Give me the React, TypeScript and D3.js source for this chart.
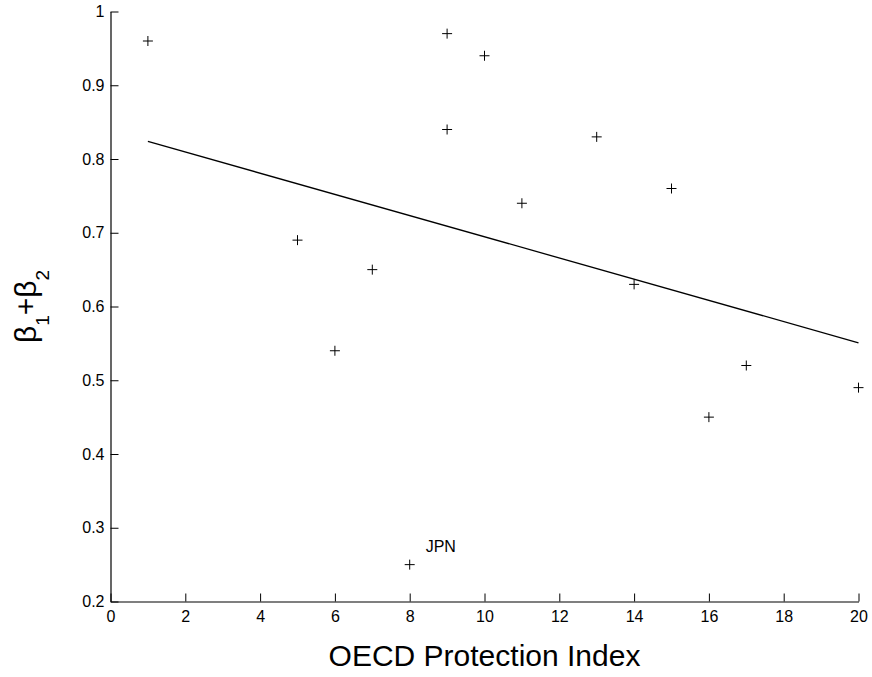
import { useEffect, useRef } from "react";
import * as d3 from "d3";

// OECD employment protection index vs. persistence (beta1 + beta2)
const protectionIndex = [1, 5, 6, 7, 8, 9, 9, 10, 11, 13, 14, 15, 16, 17, 20];
const betaSum = [0.96, 0.69, 0.54, 0.65, 0.25, 0.97, 0.84, 0.94, 0.74, 0.83, 0.63, 0.76, 0.45, 0.52, 0.49];
const pointLabels = ["", "", "", "", "JPN", "", "", "", "", "", "", "", "", "", ""];

const xTicks = [0, 2, 4, 6, 8, 10, 12, 14, 16, 18, 20];
const yTicks = [0.2, 0.3, 0.4, 0.5, 0.6, 0.7, 0.8, 0.9, 1];

const W = 872;
const H = 677;
const FONT = "Arial, 'Liberation Sans', Helvetica, sans-serif";

function leastSquares(xs: number[], ys: number[]): [number, number] {
  const mx = d3.mean(xs) ?? 0;
  const my = d3.mean(ys) ?? 0;
  let sxy = 0;
  let sxx = 0;
  xs.forEach((x, i) => {
    sxy += (x - mx) * (ys[i] - my);
    sxx += (x - mx) * (x - mx);
  });
  const slope = sxy / sxx;
  return [slope, my - slope * mx];
}

export default function App(): JSX.Element {
  const ref = useRef<SVGSVGElement | null>(null);

  useEffect(() => {
    if (!ref.current) return;
    const svg = d3.select(ref.current);
    svg.selectAll("*").remove();

    const x = d3.scaleLinear().domain([0, 20]).range([110.5, 858.5]);
    const y = d3.scaleLinear().domain([0.2, 1]).range([601.5, 11.5]);

    const xAxis = svg
      .append("g")
      .attr("transform", `translate(0,${y(0.2)})`)
      .call(
        d3
          .axisBottom(x)
          .tickValues(xTicks)
          .tickFormat(d3.format("~g"))
          .tickSizeInner(-8)
          .tickSizeOuter(0)
          .tickPadding(9),
      );

    const yAxis = svg
      .append("g")
      .attr("transform", `translate(${x(0)},0)`)
      .call(
        d3
          .axisLeft(y)
          .tickValues(yTicks)
          .tickFormat(d3.format("~g"))
          .tickSizeInner(-8)
          .tickSizeOuter(0)
          .tickPadding(6),
      );

    [xAxis, yAxis].forEach((g) => {
      g.attr("font-family", FONT).attr("font-size", 16);
      g.selectAll("text").attr("fill", "#000");
      g.selectAll("line").attr("stroke", "#000");
      g.select(".domain").attr("stroke", "#000").attr("stroke-width", 1.2);
    });

    // regression line over the data range
    const [slope, intercept] = leastSquares(protectionIndex, betaSum);
    const xExt = d3.extent(protectionIndex) as [number, number];
    const line = d3
      .line<number>()
      .x((d) => x(d))
      .y((d) => y(slope * d + intercept));
    svg
      .append("path")
      .attr("d", line(xExt))
      .attr("fill", "none")
      .attr("stroke", "#000")
      .attr("stroke-width", 1.3);

    // "+" markers
    const r = 5;
    const pts = svg
      .append("g")
      .selectAll("g")
      .data(protectionIndex.map((px, i) => ({ px, py: betaSum[i], label: pointLabels[i] })))
      .join("g")
      .attr("transform", (d) => `translate(${x(d.px)},${y(d.py)})`);
    pts
      .append("path")
      .attr("d", `M${-r},0H${r}M0,${-r}V${r}`)
      .attr("stroke", "#000")
      .attr("stroke-width", 1);
    pts
      .filter((d) => d.label !== "")
      .append("text")
      .attr("x", 16)
      .attr("y", -13)
      .attr("font-family", FONT)
      .attr("font-size", 16)
      .attr("fill", "#000")
      .text((d) => d.label);

    // axis titles
    svg
      .append("text")
      .attr("x", (x(0) + x(20)) / 2)
      .attr("y", 666)
      .attr("text-anchor", "middle")
      .attr("font-family", FONT)
      .attr("font-size", 30)
      .attr("fill", "#000")
      .text("OECD Protection Index");

    const yt = svg
      .append("text")
      .attr("transform", `translate(36,${(y(0.2) + y(1)) / 2}) rotate(-90)`)
      .attr("text-anchor", "middle")
      .attr("font-family", FONT)
      .attr("font-size", 30)
      .attr("fill", "#000");
    yt.append("tspan").text("β");
    yt.append("tspan").attr("font-size", 19).attr("dy", 13).text("1");
    yt.append("tspan").attr("dy", -13).text("+β");
    yt.append("tspan").attr("font-size", 19).attr("dy", 13).text("2");
  }, []);

  return (
    <svg
      ref={ref}
      width={W}
      height={H}
      style={{ position: "absolute", left: 0, top: 0, background: "#fff" }}
    />
  );
}
